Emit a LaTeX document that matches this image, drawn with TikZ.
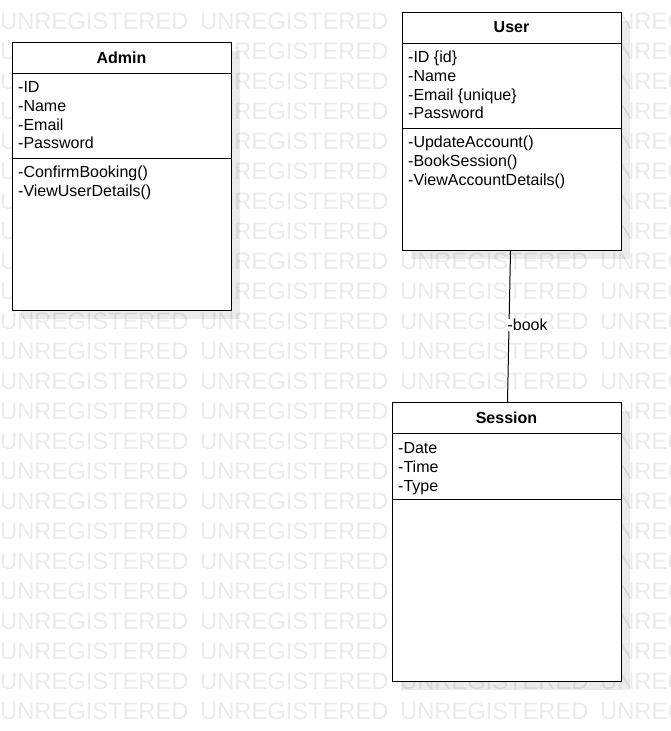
\documentclass[tikz,border=0pt]{standalone}
\usepackage{fontspec}
\setmainfont{Liberation Sans}
\usetikzlibrary{shadows,calc}
\definecolor{watermark}{HTML}{EBEBEB}
\tikzset{
  classbox/.style={draw=black, line width=1pt, fill=white, anchor=north west,
    inner sep=0pt, drop shadow={shadow xshift=8pt, shadow yshift=-8pt, fill=black, opacity=0.08}},
  classtitle/.style={font=\fontsize{16}{19}\selectfont\bfseries, inner sep=0pt},
  members/.style={font=\fontsize{16}{18.7}\selectfont, align=left, anchor=north west, inner sep=0pt},
  divider/.style={line width=1pt},
  wm/.style={text=watermark, font=\fontsize{23.7}{28}\selectfont, anchor=west, inner sep=0pt},
  assoc/.style={line width=1pt},
  assoclabel/.style={font=\fontsize{16}{19}\selectfont, fill=white, inner sep=0pt, anchor=west}
}
\begin{document}
\begin{tikzpicture}[x=1pt,y=-1pt]
  \fill[white] (0,0) rectangle (671,731);
  \useasboundingbox (0,0) rectangle (671,731);

  % background watermark rows
  \foreach \r in {0,...,23}{
    \foreach \c in {0,...,3}{
      \node[wm] (wm-\r-\c) at (\c*200, 21+\r*30) {UNREGISTERED};
    }
  }

  % Admin class
  \node[classbox, minimum width=219pt, minimum height=268pt] (admin) at (12,42) {};
  \draw[divider] ($(admin.north west)+(0,31)$) -- ($(admin.north east)+(0,31)$);
  \draw[divider] ($(admin.north west)+(0,116)$) -- ($(admin.north east)+(0,116)$);
  \node[classtitle] (admin-title) at (121.5,57.5) {Admin};
  \node[members] (admin-attrs) at (18,79.6) {\strut-ID\\\strut-Name\\\strut-Email\\\strut-Password};
  \node[members] (admin-ops) at (18,164.6) {\strut-ConfirmBooking()\\\strut-ViewUserDetails()};

  % User class
  \node[classbox, minimum width=219pt, minimum height=238pt] (user) at (402,12) {};
  \draw[divider] ($(user.north west)+(0,31)$) -- ($(user.north east)+(0,31)$);
  \draw[divider] ($(user.north west)+(0,116)$) -- ($(user.north east)+(0,116)$);
  \node[classtitle] (user-title) at (511.5,27.5) {User};
  \node[members] (user-attrs) at (408,49.6) {\strut-ID \{id\}\\\strut-Name\\\strut-Email \{unique\}\\\strut-Password};
  \node[members] (user-ops) at (408,134.6) {\strut-UpdateAccount()\\\strut-BookSession()\\\strut-ViewAccountDetails()};

  % Session class
  \node[classbox, minimum width=229pt, minimum height=279pt] (session) at (392,402) {};
  \draw[divider] ($(session.north west)+(0,31)$) -- ($(session.north east)+(0,31)$);
  \draw[divider] ($(session.north west)+(0,97)$) -- ($(session.north east)+(0,97)$);
  \node[classtitle] (session-title) at (506.5,417.5) {Session};
  \node[members] (session-attrs) at (398,440.6) {\strut-Date\\\strut-Time\\\strut-Type};

  % association between User and Session
  \draw[assoc] ([xshift=-1.5pt]user.south) -- ([xshift=0.5pt]session.north)
    node[assoclabel, pos=0.49, xshift=-2pt] (book) {-book};
\end{tikzpicture}
\end{document}
